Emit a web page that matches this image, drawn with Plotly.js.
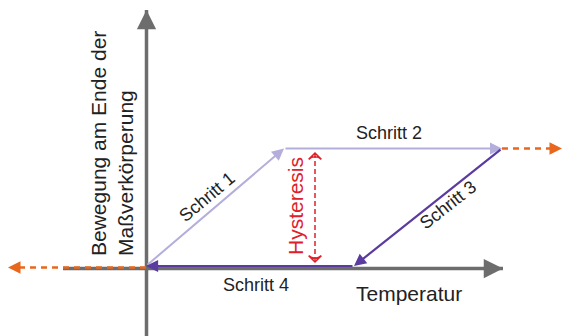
<!DOCTYPE html>
<html>
<head>
<meta charset="utf-8">
<script src="https://cdn.plot.ly/plotly-3.0.1.min.js"></script>
<style>body{margin:0;background:#fff}</style>
</head>
<body>
<div id="plot"></div>
<script>
// Hystereseschleife (Einheiten: frei, 1 = 10 px)
var schritte = ['Schritt 1', 'Schritt 2', 'Schritt 3', 'Schritt 4'];
var temperatur = [0, 13.8, 35.6, 20.8, 0];
var bewegung = [0, 11.75, 11.75, 0, 0];
var hystereseT = [16.9, 16.9];
var hystereseB = [0.4, 11.3];
var ueberlaufT = [-13.8, 41.6];
var achseT = [-8.3, 35.7];
var achseB = [-7, 25.6];

var grau = '#6d6d6d';
var hell = '#b3aedb';
var dunkel = '#5b3b9f';
var orange = '#e8671c';
var rot = '#e0202b';
var font = 'Liberation Sans, Arial, sans-serif';

var traces = [
  {x: achseT, y: [-0.25, -0.25], mode: 'lines', line: {color: grau, width: 3.5}},
  {x: [0.05, 0.05], y: achseB, mode: 'lines', line: {color: grau, width: 3.5}},
  {x: [temperatur[0], ueberlaufT[0] + 1], y: [-0.15, -0.15], mode: 'lines',
   line: {color: orange, width: 2.5, dash: '6px,5px'}},
  {x: [temperatur[2], ueberlaufT[1] - 1], y: [bewegung[2], bewegung[2]], mode: 'lines',
   line: {color: orange, width: 2.5, dash: '6px,5px'}},
  {x: hystereseT, y: hystereseB, mode: 'lines+markers',
   line: {color: rot, width: 1.5, dash: '5px,3px'},
   marker: {symbol: 'arrow-wide-open', size: 9, angle: [180, 0], color: rot,
            line: {color: rot, width: 1.5}}}
];

function kopf(x, y, ax, ay, farbe, breite, groesse) {
  return {x: x, y: y, ax: ax, ay: ay, xref: 'x', yref: 'y', axref: 'x', ayref: 'y',
    text: '', font: {size: 1}, showarrow: true, arrowhead: 2, arrowsize: groesse,
    arrowwidth: breite, arrowcolor: farbe, standoff: 0};
}

var annotations = [
  kopf(achseT[1], -0.25, achseT[1] - 1, -0.25, grau, 3.5, 1.1),
  kopf(0.05, achseB[1], 0.05, achseB[1] - 1, grau, 3.5, 1.1),
  kopf(ueberlaufT[0], -0.15, ueberlaufT[0] + 0.8, -0.15, orange, 2.5, 1),
  kopf(ueberlaufT[1], bewegung[2], ueberlaufT[1] - 0.8, bewegung[2], orange, 2.5, 1)
];

for (var i = 0; i < schritte.length; i++) {
  var farbe = i < 2 ? hell : dunkel;
  annotations.push(kopf(temperatur[i + 1], bewegung[i + 1], temperatur[i], bewegung[i],
    farbe, i < 2 ? 2 : 2.2, i < 2 ? 1.2 : 1.1));
}

function label(text, x, y, winkel, groesse, farbe) {
  return {text: text, x: x, y: y, xref: 'x', yref: 'y', showarrow: false,
    textangle: winkel, font: {family: font, size: groesse, color: farbe || '#222'}};
}

annotations.push(label(schritte[0], 6.1, 6.9, -40, 18));
annotations.push(label(schritte[1], 24.3, 13.3, 0, 18));
annotations.push(label(schritte[2], 30.2, 6.1, -38, 18));
annotations.push(label(schritte[3], 11.0, -1.9, 0, 18));
annotations.push(label('Temperatur', 26.3, -2.7, 0, 21));
annotations.push(label('Hysteresis', 14.9, 6.0, -90, 21, rot));
annotations.push({text: 'Bewegung am Ende der<br>Maßverkörperung', x: -3.4, y: 0.75,
  xref: 'x', yref: 'y', xanchor: 'center', yanchor: 'bottom', align: 'left',
  showarrow: false, textangle: -90, font: {family: font, size: 21, color: '#222'}});

var layout = {
  width: 563, height: 336,
  margin: {l: 0, r: 0, t: 0, b: 0},
  paper_bgcolor: '#fff', plot_bgcolor: '#fff',
  showlegend: false, hovermode: false,
  xaxis: {range: [-14.6, 41.7], visible: false, fixedrange: true},
  yaxis: {range: [-7.0, 26.6], visible: false, fixedrange: true},
  annotations: annotations
};

Plotly.newPlot('plot', traces, layout, {displayModeBar: false, staticPlot: true});
</script>
</body>
</html>
